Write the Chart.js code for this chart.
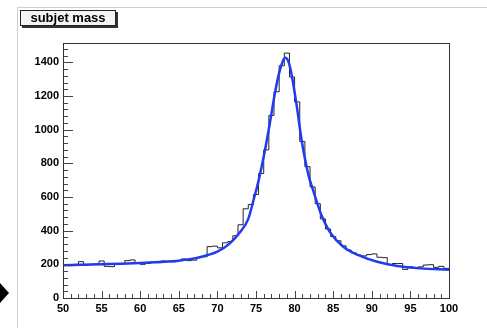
<!DOCTYPE html>
<html>
<head>
<meta charset="utf-8">
<script src="https://cdn.jsdelivr.net/npm/chart.js@4.4.1/dist/chart.umd.min.js"></script>
<style>
  html, body { margin: 0; padding: 0; background: #fff; }
  canvas { display: block; }
</style>
</head>
<body>
<canvas id="massChart" width="487" height="328"></canvas>
<script>
// histogram: 75 bins from 50 to 100
const histLow = 50
const histHigh = 100
const binCounts = [
  195, 192, 200, 216, 195, 200, 202, 220, 188, 186,
  200, 205, 222, 226, 210, 200, 205, 214, 210, 220,
  218, 215, 222, 232, 222, 225, 242, 245, 305, 308,
  298, 328, 335, 370, 435, 530, 555, 615, 740, 880,
  1085, 1225, 1380, 1455, 1313, 1165, 930, 780, 660, 560,
  470, 410, 365, 340, 310, 285, 268, 255, 250, 258,
  262, 242, 240, 198, 205, 205, 170, 185, 180, 185,
  196, 198, 182, 188, 176
]

// fit curve
const fitX = [50, 52.5, 55, 57.5, 60, 62.5, 65, 67.5, 70, 71.5, 73, 74, 74.7, 75.3, 76, 76.8, 77.5, 78.1, 78.5, 78.8, 79.2, 79.6, 80.3, 80.9, 81.8, 82.4, 83, 83.5, 84.6, 86.3, 88.5, 90.7, 93.3, 96.3, 100]
const fitY = [195, 198, 201, 204, 208, 214, 222, 240, 275, 320, 395, 470, 585, 690, 840, 1040, 1230, 1355, 1410, 1428, 1405, 1330, 1135, 940, 730, 640, 555, 490, 390, 305, 250, 215, 190, 176, 168]

const yTicks = [0, 200, 400, 600, 800, 1000, 1200, 1400]
const xTicks = [50, 55, 60, 65, 70, 75, 80, 85, 90, 95, 100]
const yMax = 1515

const binWidth = (histHigh - histLow) / binCounts.length
let histPoints = []
binCounts.forEach((c, i) => {
  histPoints.push({ x: histLow + i * binWidth, y: c })
})
histPoints.push({ x: histHigh, y: binCounts[binCounts.length - 1] })

const fitPoints = fitX.map((x, i) => ({ x: x, y: fitY[i] }))

const tickFont = { family: "'Liberation Sans', Arial, sans-serif", size: 11, weight: 'bold' }

// ROOT-ish frame, inward ticks, title box, page decorations
const rootStyle = {
  id: 'rootStyle',
  beforeDraw(chart) {
    const ctx = chart.ctx
    ctx.save()
    ctx.fillStyle = '#fff'
    ctx.fillRect(0, 0, chart.width, chart.height)
    // light grey page edge
    ctx.strokeStyle = '#cfcfcf'
    ctx.lineWidth = 1
    ctx.beginPath()
    ctx.moveTo(17.5, chart.height)
    ctx.lineTo(17.5, 7.5)
    ctx.lineTo(chart.width, 7.5)
    ctx.stroke()
    // black marker at bottom left
    ctx.fillStyle = '#000'
    ctx.beginPath()
    ctx.moveTo(0, 283)
    ctx.lineTo(9, 293)
    ctx.lineTo(0, 303)
    ctx.closePath()
    ctx.fill()
    // title box with shadow
    ctx.fillStyle = '#333'
    ctx.fillRect(22, 12, 96, 16)
    ctx.fillStyle = '#f4f4f4'
    ctx.fillRect(20.5, 10.5, 95, 15)
    ctx.strokeStyle = '#222'
    ctx.strokeRect(20.5, 10.5, 95, 15)
    ctx.fillStyle = '#000'
    ctx.font = "bold 13px 'Liberation Sans', Arial, sans-serif"
    ctx.textAlign = 'center'
    ctx.textBaseline = 'middle'
    ctx.fillText('subjet mass', 68, 18.5)
    ctx.restore()
  },
  afterDraw(chart) {
    const ctx = chart.ctx
    const a = chart.chartArea
    const xs = chart.scales.x
    const ys = chart.scales.y
    ctx.save()
    ctx.strokeStyle = '#444'
    ctx.lineWidth = 1
    ctx.beginPath()
    for (let v = 0; v <= yMax; v += 40) {
      const py = Math.round(ys.getPixelForValue(v)) + 0.5
      const len = v % 200 === 0 ? 10 : 5
      ctx.moveTo(a.left, py)
      ctx.lineTo(a.left + len, py)
    }
    for (let v = histLow; v <= histHigh; v += 1) {
      const px = Math.round(xs.getPixelForValue(v)) + 0.5
      const len = v % 5 === 0 ? 7 : 4
      ctx.moveTo(px, a.bottom)
      ctx.lineTo(px, a.bottom - len)
    }
    ctx.stroke()
    // frame
    ctx.strokeStyle = '#333'
    ctx.strokeRect(a.left + 0.5, a.top + 0.5, a.right - a.left, a.bottom - a.top)
    ctx.restore()
  }
}

const massConfig = {
  type: 'line',
  data: {
    datasets: [{
      label: 'fit',
      data: fitPoints,
      borderColor: '#1f3cf0',
      borderWidth: 2.5,
      pointRadius: 0,
      cubicInterpolationMode: 'monotone',
      fill: false
    },
    {
      label: 'subjet mass',
      data: histPoints,
      borderColor: '#222',
      borderWidth: 1,
      pointRadius: 0,
      stepped: true,
      fill: false
    }]
  },
  options: {
    responsive: false,
    animation: false,
    devicePixelRatio: 1,
    layout: { padding: { top: 43, right: 38, left: 0, bottom: 0 } },
    plugins: {
      legend: { display: false },
      tooltip: { enabled: false },
      title: { display: false }
    },
    scales: {
      x: {
        type: 'linear',
        min: histLow,
        max: histHigh,
        grid: { display: false, drawTicks: false },
        border: { display: false },
        afterBuildTicks: s => { s.ticks = xTicks.map(v => ({ value: v })) },
        ticks: { font: tickFont, color: '#000', padding: 4, maxRotation: 0, autoSkip: false, callback: v => String(v) },
        afterFit: s => { s.height = 30 }
      },
      y: {
        type: 'linear',
        min: 0,
        max: yMax,
        grid: { display: false, drawTicks: false },
        border: { display: false },
        afterBuildTicks: s => { s.ticks = yTicks.map(v => ({ value: v })) },
        ticks: { font: tickFont, color: '#000', padding: 4, autoSkip: false, callback: v => String(v) },
        afterFit: s => { s.width = 63 }
      }
    }
  },
  plugins: [rootStyle]
}

const massChart = new Chart(document.getElementById('massChart'), massConfig)
</script>
</body>
</html>
